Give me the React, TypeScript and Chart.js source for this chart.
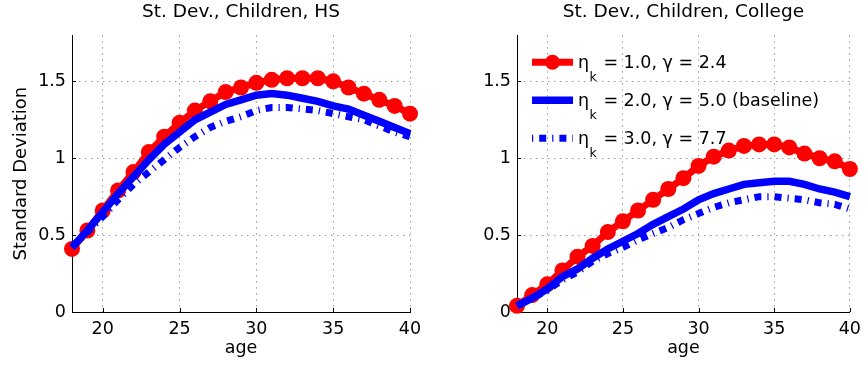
import React, { useEffect, useRef } from 'react';
import { Chart, registerables } from 'chart.js';

Chart.register(...registerables);

// ---------- data ----------
const ages = [18, 19, 20, 21, 22, 23, 24, 25, 26, 27, 28, 29, 30, 31, 32, 33, 34, 35, 36, 37, 38, 39, 40];

// High school (left panel)
const hsEta1 = [0.41, 0.53, 0.66, 0.79, 0.91, 1.04, 1.14, 1.23, 1.31, 1.37, 1.43, 1.46, 1.49, 1.51, 1.52, 1.52, 1.52, 1.5, 1.46, 1.42, 1.38, 1.34, 1.29];
const hsEta2 = [0.42, 0.53, 0.65, 0.77, 0.88, 0.99, 1.09, 1.17, 1.25, 1.3, 1.35, 1.38, 1.41, 1.42, 1.41, 1.39, 1.37, 1.34, 1.32, 1.28, 1.24, 1.2, 1.16];
const hsEta3 = [0.42, 0.52, 0.62, 0.73, 0.83, 0.91, 0.99, 1.07, 1.14, 1.2, 1.24, 1.27, 1.31, 1.33, 1.33, 1.32, 1.31, 1.29, 1.27, 1.25, 1.21, 1.17, 1.14];

// College (right panel)
const colEta1 = [0.04, 0.11, 0.18, 0.27, 0.36, 0.43, 0.52, 0.59, 0.66, 0.73, 0.8, 0.87, 0.95, 1.01, 1.05, 1.08, 1.09, 1.09, 1.07, 1.03, 1.0, 0.98, 0.93];
const colEta2 = [0.04, 0.09, 0.15, 0.23, 0.28, 0.35, 0.41, 0.46, 0.51, 0.57, 0.62, 0.67, 0.73, 0.77, 0.8, 0.83, 0.84, 0.85, 0.85, 0.83, 0.8, 0.78, 0.75];
const colEta3 = [0.04, 0.09, 0.14, 0.21, 0.26, 0.33, 0.38, 0.42, 0.47, 0.51, 0.55, 0.6, 0.64, 0.68, 0.71, 0.73, 0.75, 0.75, 0.74, 0.73, 0.71, 0.7, 0.67];

const seriesLabels = ['η_k = 1.0, γ = 2.4', 'η_k = 2.0, γ = 5.0 (baseline)', 'η_k = 3.0, γ = 7.7'];
const panelTitles = ['St. Dev., Children, HS', 'St. Dev., Children, College'];
const xTicks = [20, 25, 30, 35, 40];
const yTicks = [0, 0.5, 1, 1.5];
const xMin = 18;
const xMax = 40;
const yMin = 0;
const yMax = 1.8;
const xLabel = 'age';
const yLabel = 'Standard Deviation';

const FONT = '"DejaVu Sans", sans-serif';
const RED = '#ff0000';
const BLUE = '#0000ff';
const GRID = '#999999';

const toPoints = (vals: number[]) => ages.map((a, i) => ({ x: a, y: vals[i] }));

const inwardTicks = {
  id: 'inwardTicks',
  beforeDatasetsDraw(chart: any) {
    const { ctx, chartArea, scales } = chart;
    const x = scales.x;
    const y = scales.y;
    ctx.save();
    ctx.strokeStyle = '#000';
    ctx.lineWidth = 1;
    ctx.beginPath();
    x.ticks.forEach((t: any) => {
      const px = Math.round(x.getPixelForValue(t.value)) + 0.5;
      ctx.moveTo(px, chartArea.bottom);
      ctx.lineTo(px, chartArea.bottom - 4);
    });
    y.ticks.forEach((t: any) => {
      const py = Math.round(y.getPixelForValue(t.value)) + 0.5;
      ctx.moveTo(chartArea.left, py);
      ctx.lineTo(chartArea.left + 4, py);
    });
    ctx.stroke();
    ctx.restore();
  },
};

const insideLegend = {
  id: 'insideLegend',
  afterDatasetsDraw(chart: any, _args: any, opts: any) {
    if (!opts || !opts.show) return;
    const { ctx, chartArea } = chart;
    const L = chartArea.left;
    const T = chartArea.top;
    chart.data.datasets.forEach((ds: any, i: number) => {
      const cy = T + 27 + i * 38;
      const x0 = L + 15;
      const x1 = L + 56;
      ctx.save();
      ctx.strokeStyle = ds.borderColor;
      ctx.lineWidth = ds.borderWidth;
      ctx.lineCap = 'butt';
      ctx.setLineDash(ds.borderDash || []);
      ctx.lineDashOffset = ds.borderDash ? 13 : 0;
      ctx.beginPath();
      ctx.moveTo(x0, cy);
      ctx.lineTo(x1, cy);
      ctx.stroke();
      ctx.setLineDash([]);
      if (ds.pointRadius > 0) {
        ctx.fillStyle = ds.pointBackgroundColor;
        ctx.beginPath();
        ctx.arc((x0 + x1) / 2, cy, 7.5, 0, Math.PI * 2);
        ctx.fill();
      }
      const label: string = ds.label;
      const us = label.indexOf('_');
      const head = label.slice(0, us);
      const sub = label.slice(us + 1, us + 2);
      const tail = label.slice(us + 2);
      const base = cy + 6;
      let tx = L + 61;
      ctx.fillStyle = '#000';
      ctx.textAlign = 'left';
      ctx.textBaseline = 'alphabetic';
      ctx.font = `17.5px ${FONT}`;
      ctx.fillText(head, tx, base);
      tx += ctx.measureText(head).width + 0.5;
      ctx.font = `12.5px ${FONT}`;
      ctx.fillText(sub, tx, base + 13);
      tx += ctx.measureText(sub).width + 1;
      ctx.font = `17.5px ${FONT}`;
      ctx.fillText(tail, tx, base);
      ctx.restore();
    });
  },
};

function makeConfig(title: string, s1: number[], s2: number[], s3: number[], showYTitle: boolean, yWidth: number, rightPad: number, showLegend: boolean): any {
  return {
    type: 'line',
    data: {
      datasets: [
        {
          label: seriesLabels[0],
          data: toPoints(s1),
          borderColor: RED,
          backgroundColor: RED,
          borderWidth: 7,
          pointRadius: 8,
          pointHoverRadius: 8,
          pointBorderWidth: 0,
          pointBackgroundColor: RED,
          tension: 0,
          clip: false,
          order: 3,
        },
        {
          label: seriesLabels[1],
          data: toPoints(s2),
          borderColor: BLUE,
          backgroundColor: BLUE,
          borderWidth: 7.5,
          pointRadius: 0,
          tension: 0,
          clip: false,
          order: 2,
        },
        {
          label: seriesLabels[2],
          data: toPoints(s3),
          borderColor: BLUE,
          backgroundColor: BLUE,
          borderWidth: 7,
          borderDash: [7, 6, 1.2, 6],
          borderCapStyle: 'butt',
          pointRadius: 0,
          tension: 0,
          clip: false,
          order: 1,
        },
      ],
    },
    options: {
      responsive: false,
      animation: false,
      events: [],
      layout: { padding: { left: 0, right: rightPad, top: 0, bottom: 0 } },
      plugins: {
        legend: { display: false },
        tooltip: { enabled: false },
        title: {
          display: true,
          text: title,
          fullSize: false,
          color: '#000',
          font: { family: FONT, size: 18.5, weight: 'normal', lineHeight: 1.2 },
          padding: { top: 1, bottom: 12 },
        },
        insideLegend: { show: showLegend },
      },
      scales: {
        x: {
          type: 'linear',
          min: xMin,
          max: xMax,
          afterBuildTicks: (s: any) => {
            s.ticks = xTicks.map((v) => ({ value: v }));
          },
          afterFit: (s: any) => {
            s.height = 54;
          },
          ticks: {
            color: '#000',
            font: { family: FONT, size: 17.5 },
            padding: 7,
            maxRotation: 0,
            autoSkip: false,
            callback: (v: any) => String(v),
          },
          grid: { color: GRID, lineWidth: 1, drawTicks: false },
          border: { display: true, color: '#000', width: 1, dash: [1.5, 4.5] },
          title: {
            display: true,
            text: xLabel,
            color: '#000',
            font: { family: FONT, size: 17.5, lineHeight: 1.2 },
            padding: { top: 0, bottom: 7 },
          },
        },
        y: {
          type: 'linear',
          min: yMin,
          max: yMax,
          afterBuildTicks: (s: any) => {
            s.ticks = yTicks.map((v) => ({ value: v }));
          },
          afterFit: (s: any) => {
            s.width = yWidth;
          },
          ticks: {
            color: '#000',
            font: { family: FONT, size: 17.5 },
            padding: 6,
            autoSkip: false,
            callback: (v: any) => String(v),
          },
          grid: { color: GRID, lineWidth: 1, drawTicks: false },
          border: { display: true, color: '#000', width: 1, dash: [1.5, 4.5] },
          title: {
            display: showYTitle,
            text: yLabel,
            color: '#000',
            font: { family: FONT, size: 18, lineHeight: 1.2 },
            padding: { top: 11, bottom: 0 },
          },
        },
      },
    },
    plugins: [inwardTicks, insideLegend],
  };
}

function Panel({ config, left }: { config: any; left: number }) {
  const ref = useRef<HTMLCanvasElement | null>(null);
  useEffect(() => {
    if (!ref.current) return;
    const chart = new Chart(ref.current, config);
    return () => chart.destroy();
  }, [config]);
  return (
    <canvas
      ref={ref}
      width={434}
      height={366}
      style={{ position: 'absolute', left, top: 0, width: 434, height: 366 }}
    />
  );
}

const leftConfig = makeConfig(panelTitles[0], hsEta1, hsEta2, hsEta3, true, 72, 24, false);
const rightConfig = makeConfig(panelTitles[1], colEta1, colEta2, colEta3, false, 83, 13, true);

export default function App() {
  return (
    <div style={{ position: 'absolute', left: 0, top: 0, width: 868, height: 366, background: '#fff', overflow: 'hidden' }}>
      <Panel config={leftConfig} left={0} />
      <Panel config={rightConfig} left={434} />
    </div>
  );
}
